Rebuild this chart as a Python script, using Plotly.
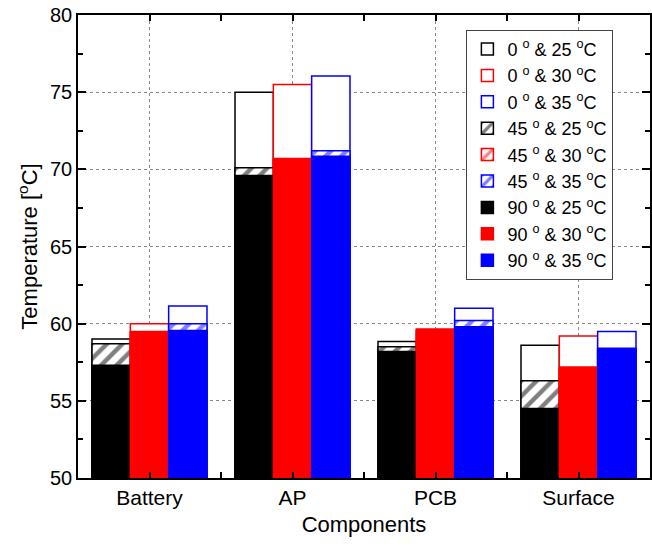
import plotly.graph_objects as go

components = ["Battery", "AP", "PCB", "Surface"]
temps = ["25", "30", "35"]
angles = ["0", "45", "90"]

# values per (tilt angle, ambient temperature) -> list over components
t0_25 = [59.0, 75.0, 58.85, 58.6]
t0_30 = [60.0, 75.5, 59.65, 59.2]
t0_35 = [61.15, 76.05, 61.0, 59.5]
t45_25 = [58.7, 70.1, 58.5, 56.3]
t45_30 = [59.4, 70.6, 59.5, 57.1]
t45_35 = [60.0, 71.2, 60.2, 58.3]
t90_25 = [57.3, 69.6, 58.2, 54.5]
t90_30 = [59.5, 70.7, 59.6, 57.2]
t90_35 = [59.55, 70.85, 59.8, 58.4]

series = {
    ("0", "25"): t0_25, ("0", "30"): t0_30, ("0", "35"): t0_35,
    ("45", "25"): t45_25, ("45", "30"): t45_30, ("45", "35"): t45_35,
    ("90", "25"): t90_25, ("90", "30"): t90_30, ("90", "35"): t90_35,
}

colors = {"25": "#000000", "30": "#ff0000", "35": "#0000ff"}
offsets = {"25": -0.268, "30": 0.0, "35": 0.268}
bar_w = 0.268
xpos = [1, 2, 3, 4]

fig = go.Figure()
for a in angles:
    for t in temps:
        c = colors[t]
        vals = series[(a, t)]
        x = [p + offsets[t] for p in xpos]
        name = f"{a} <sup>o</sup> & {t} <sup>o</sup>C"
        if a == "0":
            marker = dict(color="white", line=dict(color=c, width=1.5))
        elif a == "45":
            marker = dict(color="white", line=dict(color=c, width=1.5),
                          pattern=dict(shape="/", fgcolor=c, bgcolor="white",
                                       size=11, solidity=0.4, fillmode="overlay"))
        else:
            marker = dict(color=c, line=dict(color=c, width=1.5))
        fig.add_trace(go.Bar(x=x, y=vals, width=bar_w, name=name, marker=marker,
                             hoverinfo="skip"))

font = "Liberation Sans, Arial, sans-serif"
fig.update_layout(
    width=652, height=547,
    barmode="overlay",
    plot_bgcolor="white", paper_bgcolor="white",
    margin=dict(l=78, r=0, t=15, b=69),
    font=dict(family=font, size=20, color="black"),
    showlegend=True,
    legend=dict(x=0.679, y=0.968, xanchor="left", yanchor="top",
                bgcolor="white", bordercolor="#444", borderwidth=1,
                font=dict(size=18), tracegroupgap=0),
)
fig.update_xaxes(
    range=[0.5, 4.5], tickmode="array", tickvals=xpos, ticktext=components,
    ticks="inside", ticklen=6, tickcolor="black", tickwidth=1.5,
    showline=True, linecolor="black", linewidth=1.5, mirror="ticks",
    showgrid=True, gridcolor="#888888", griddash="dot", gridwidth=1,
    minor=dict(tickmode="linear", tick0=0.5, dtick=1, ticks="inside",
               ticklen=6, tickcolor="black", tickwidth=1.5, showgrid=False),
    title=dict(text="Components", font=dict(size=22), standoff=9),
    tickfont=dict(size=21), zeroline=False,
)
fig.update_yaxes(
    range=[50, 80], tickmode="linear", tick0=50, dtick=5,
    ticks="inside", ticklen=8, tickcolor="black", tickwidth=1.5,
    showline=True, linecolor="black", linewidth=1.5, mirror="ticks",
    showgrid=True, gridcolor="#888888", griddash="dot", gridwidth=1,
    minor=dict(tickmode="linear", tick0=52.5, dtick=5, ticks="inside",
               ticklen=5, tickcolor="black", tickwidth=1.5, showgrid=False),
    title=dict(text="Temperature [<sup>o</sup>C]", font=dict(size=22), standoff=6),
    tickfont=dict(size=20), zeroline=False,
)

fig.write_html("out.html")
